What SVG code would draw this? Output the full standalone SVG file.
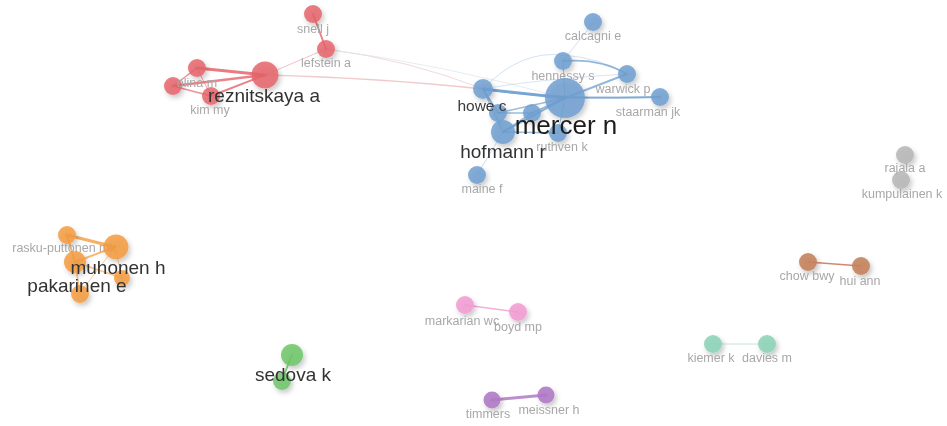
<svg xmlns="http://www.w3.org/2000/svg" width="947" height="426" viewBox="0 0 947 426">
<defs>
<filter id="sh" x="-60%" y="-60%" width="220%" height="220%">
<feGaussianBlur in="SourceGraphic" stdDeviation="0.6" result="b"/>
<feDropShadow in="b" dx="2" dy="3" stdDeviation="2.5" flood-color="#000" flood-opacity="0.25"/>
</filter>
<filter id="tb" x="-10%" y="-30%" width="120%" height="160%">
<feGaussianBlur stdDeviation="0.35"/>
</filter>
</defs>
<style>
text{font-family:"Liberation Sans",Arial,sans-serif;text-anchor:middle;filter:url(#tb)}
.s{font-size:12.5px;fill:#a8a8a8}
.m{font-size:15.5px;fill:#3a3a3a}
.l{font-size:19px;fill:#333}
.xl{font-size:26px;fill:#1e1e1e}
circle{filter:url(#sh)}
.red{fill:#e5646b;fill-opacity:.85}
.blue{fill:#6f9fd0;fill-opacity:.85}
.org{fill:#f59b3e;fill-opacity:.85}
.grn{fill:#6cc566;fill-opacity:.85}
.pnk{fill:#f29ad2;fill-opacity:.85}
.pur{fill:#b07ac6;fill-opacity:.9}
.brn{fill:#c4835c;fill-opacity:.9}
.tea{fill:#8fd4b9;fill-opacity:.9}
.gry{fill:#b5b5b5;fill-opacity:.85}
.e{fill:none;stroke-linecap:round}
.er{stroke:#e5646b}
.eb{stroke:#6f9fd0}
.eo{stroke:#f59b3e}
</style>
<rect width="947" height="426" fill="#fff"/>
<g id="edges">
<path class="e" d="M265 75 Q380 78 483 89" stroke="#e8b3b6" stroke-width="1.6" stroke-opacity=".7"/>
<path class="e" d="M326 49 Q410 60 483 89" stroke="#e8c0c2" stroke-width="1" stroke-opacity=".6"/>
<path class="e" d="M326 49 Q445 65 565 98" stroke="#dde3ee" stroke-width="1" stroke-opacity=".7"/>
<path class="e er" d="M265 75 L197 68" stroke-width="3" stroke-opacity=".85"/>
<path class="e er" d="M265 75 L173 86" stroke-width="2.5" stroke-opacity=".8"/>
<path class="e er" d="M265 75 L211 96" stroke-width="2" stroke-opacity=".8"/>
<path class="e er" d="M197 68 L173 86" stroke-width="1.5" stroke-opacity=".7"/>
<path class="e er" d="M173 86 L211 96" stroke-width="1.5" stroke-opacity=".7"/>
<path class="e er" d="M197 68 L211 96" stroke-width="1" stroke-opacity=".6"/>
<path class="e er" d="M313 14 L326 49" stroke-width="2" stroke-opacity=".8"/>
<path class="e er" d="M326 49 L265 75" stroke-width="1" stroke-opacity=".4"/>
<path class="e eb" d="M483 89 Q530 80 627 74" stroke-width="0.8" stroke-opacity=".35"/>
<path class="e eb" d="M483 89 Q520 50 563 55 Q600 58 627 74" stroke-width="1" stroke-opacity=".3"/>
<path class="e eb" d="M593 23 L563 61" stroke-width="1" stroke-opacity=".3"/>
<path class="e eb" d="M563 61 Q600 58 627 74" stroke-width="1.8" stroke-opacity=".75"/>
<path class="e eb" d="M563 61 L565 98" stroke-width="1" stroke-opacity=".6"/>
<path class="e eb" d="M483 89 Q560 100 660 97" stroke-width="2" stroke-opacity=".7"/>
<path class="e eb" d="M483 89 L565 98" stroke-width="3" stroke-opacity=".85"/>
<path class="e eb" d="M565 98 L627 74" stroke-width="2" stroke-opacity=".75"/>
<path class="e eb" d="M565 98 L660 97" stroke-width="1.5" stroke-opacity=".6"/>
<path class="e eb" d="M565 98 L503 132" stroke-width="2" stroke-opacity=".75"/>
<path class="e eb" d="M565 98 L498 113" stroke-width="1.5" stroke-opacity=".7"/>
<path class="e eb" d="M565 98 L532 113" stroke-width="1.5" stroke-opacity=".7"/>
<path class="e eb" d="M565 98 L558 133" stroke-width="1" stroke-opacity=".6"/>
<path class="e eb" d="M483 89 L498 113" stroke-width="2" stroke-opacity=".75"/>
<path class="e eb" d="M483 89 L503 132" stroke-width="1.5" stroke-opacity=".6"/>
<path class="e eb" d="M498 113 L532 113" stroke-width="1.5" stroke-opacity=".7"/>
<path class="e eb" d="M503 132 L532 113" stroke-width="1.5" stroke-opacity=".7"/>
<path class="e eb" d="M503 132 L558 133" stroke-width="1.5" stroke-opacity=".7"/>
<path class="e eb" d="M503 132 L477 175" stroke-width="1" stroke-opacity=".35"/>
<path class="e eo" d="M67 235 L115 247" stroke-width="3" stroke-opacity=".8"/>
<path class="e eo" d="M67 235 L75 262" stroke-width="2" stroke-opacity=".7"/>
<path class="e eo" d="M115 247 L75 262" stroke-width="2" stroke-opacity=".7"/>
<path class="e eo" d="M75 262 L122 278" stroke-width="1.5" stroke-opacity=".6"/>
<path class="e eo" d="M75 262 L80 293" stroke-width="1.5" stroke-opacity=".6"/>
<path class="e eo" d="M115 247 L122 278" stroke-width="1" stroke-opacity=".5"/>
<path class="e eo" d="M115 247 L80 293" stroke-width="1" stroke-opacity=".5"/>
<path class="e" d="M292 355 L282 380" stroke="#6cc566" stroke-width="2" stroke-opacity=".8"/>
<path class="e" d="M465 305 L518 312" stroke="#f29ad2" stroke-width="1.5" stroke-opacity=".8"/>
<path class="e" d="M492 400 L546 395" stroke="#b07ac6" stroke-width="3" stroke-opacity=".85"/>
<path class="e" d="M808 262 L861 266" stroke="#c8664f" stroke-width="1.3" stroke-opacity=".8"/>
<path class="e" d="M713 344 L767 344" stroke="#a9ddc8" stroke-width="1" stroke-opacity=".7"/>
</g>
<g id="node-snell-j"><circle class="red" cx="313" cy="14" r="9"/><text class="s" x="313" y="33">snell j</text></g>
<g id="node-lefstein-a"><circle class="red" cx="326" cy="49" r="9"/><text class="s" x="326" y="67">lefstein a</text></g>
<g id="node-olina-m"><circle class="red" cx="197" cy="68" r="9"/><circle class="red" cx="173" cy="86" r="9"/><text class="s" x="197" y="87">olina m</text></g>
<g id="node-kim-my"><circle class="red" cx="211" cy="96" r="9"/><text class="s" x="210" y="114">kim my</text></g>
<g id="node-reznitskaya-a"><circle class="red" cx="265" cy="75" r="13.5"/><text class="l" x="264" y="102">reznitskaya a</text></g>
<g id="node-calcagni-e"><circle class="blue" cx="593" cy="22" r="9"/><text class="s" x="593" y="40">calcagni e</text></g>
<g id="node-hennessy-s"><circle class="blue" cx="563" cy="61" r="9"/><text class="s" x="563" y="80">hennessy s</text></g>
<g id="node-warwick-p"><circle class="blue" cx="627" cy="74" r="9"/><text class="s" x="623" y="93">warwick p</text></g>
<g id="node-staarman-jk"><circle class="blue" cx="660" cy="97" r="9"/><text class="s" x="648" y="116">staarman jk</text></g>
<g id="node-maine-f"><circle class="blue" cx="477" cy="175" r="9"/><text class="s" x="482" y="193">maine f</text></g>
<g id="node-ruthven-k"><circle class="blue" cx="558" cy="133" r="9"/><text class="s" x="562" y="151">ruthven k</text></g>
<g id="node-b2"><circle class="blue" cx="532" cy="113" r="9"/></g>
<g id="node-b1"><circle class="blue" cx="498" cy="113" r="9"/></g>
<g id="node-howe-c"><circle class="blue" cx="483" cy="89" r="10"/><text class="m" x="482" y="111">howe c</text></g>
<g id="node-hofmann-r"><circle class="blue" cx="503" cy="132" r="12"/><text class="l" x="503" y="158">hofmann r</text></g>
<g id="node-mercer-n"><circle class="blue" cx="565" cy="98" r="20"/><text class="xl" x="566" y="134">mercer n</text></g>
<g id="node-rajala-a"><circle class="gry" cx="905" cy="155" r="9"/><text class="s" x="905" y="172">rajala a</text></g>
<g id="node-kumpulainen-k"><circle class="gry" cx="901" cy="180" r="9"/><text class="s" x="902" y="198">kumpulainen k</text></g>
<g id="node-rasku-puttonen-mk"><circle class="org" cx="67" cy="235" r="9"/><text class="s" x="64" y="252">rasku-puttonen mk</text></g>
<g id="node-o4"><circle class="org" cx="122" cy="278" r="8"/></g>
<g id="node-o5"><circle class="org" cx="80" cy="294" r="9"/></g>
<g id="node-pakarinen-e"><circle class="org" cx="75" cy="262" r="11"/><text class="l" x="77" y="292">pakarinen e</text></g>
<g id="node-muhonen-h"><circle class="org" cx="116" cy="247" r="12.5"/><text class="l" x="118" y="274">muhonen h</text></g>
<g id="node-sedova-k"><circle class="grn" cx="292" cy="355" r="11"/><circle class="grn" cx="282" cy="381" r="9"/><text class="l" x="293" y="381">sedova k</text></g>
<g id="node-markarian-wc"><circle class="pnk" cx="465" cy="305" r="9"/><text class="s" x="462" y="325">markarian wc</text></g>
<g id="node-boyd-mp"><circle class="pnk" cx="518" cy="312" r="9"/><text class="s" x="518" y="331">boyd mp</text></g>
<g id="node-timmers"><circle class="pur" cx="492" cy="400" r="8.5"/><text class="s" x="488" y="418">timmers</text></g>
<g id="node-meissner-h"><circle class="pur" cx="546" cy="395" r="8.5"/><text class="s" x="549" y="414">meissner h</text></g>
<g id="node-chow-bwy"><circle class="brn" cx="808" cy="262" r="9"/><text class="s" x="807" y="280">chow bwy</text></g>
<g id="node-hui-ann"><circle class="brn" cx="861" cy="266" r="9"/><text class="s" x="860" y="285">hui ann</text></g>
<g id="node-kiemer-k"><circle class="tea" cx="713" cy="344" r="9"/><text class="s" x="711" y="362">kiemer k</text></g>
<g id="node-davies-m"><circle class="tea" cx="767" cy="344" r="9"/><text class="s" x="767" y="362">davies m</text></g>
</svg>
